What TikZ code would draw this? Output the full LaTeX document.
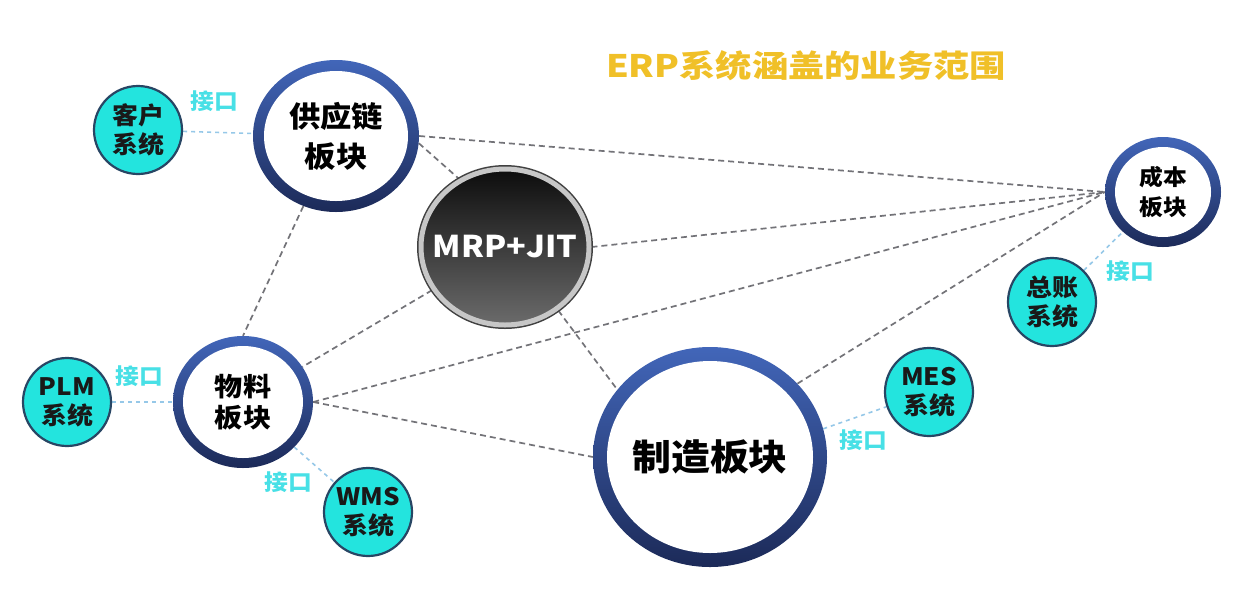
\documentclass[tikz,border=0pt]{standalone}
\usepackage{fontspec}
\usepackage{graphicx}
\setmainfont{Noto Sans CJK SC}[FakeStretch=1.08]
\newfontfamily\titlefont{Noto Sans CJK SC}[FakeStretch=1.17]
\usetikzlibrary{shapes.geometric,backgrounds}
\definecolor{ringtop}{RGB}{66,102,185}
\definecolor{ringbot}{RGB}{28,42,88}
\definecolor{cyanfill}{RGB}{35,228,222}
\definecolor{cyanedge}{RGB}{40,70,100}
\definecolor{iftext}{RGB}{72,224,230}
\definecolor{linkgray}{RGB}{115,115,120}
\definecolor{iflinkblue}{RGB}{150,200,232}
\definecolor{titlegold}{RGB}{240,192,40}
\tikzset{
  ring/.style n args={3}{ellipse, inner sep=0pt, minimum width=#1, minimum height=#2,
    top color=ringtop, bottom color=ringbot, text=black, align=center,
    path picture={\fill[white] (path picture bounding box.center) ellipse [x radius={#1/2-#3}, y radius={#2/2-#3}];}},
  mrpball/.style={ellipse, inner sep=0pt, minimum width=168pt, minimum height=156pt,
    top color=black!95, bottom color=black!58, draw=black!22, line width=5pt,
    preaction={draw=black!75, line width=8pt}, text=white,
    font=\bfseries\fontsize{30}{34}\selectfont},
  sys/.style={circle, minimum size=88pt, inner sep=0pt, fill=cyanfill, draw=cyanedge,
    line width=2.2pt, align=center, text=black!90, font=\bfseries\fontsize{24}{29}\selectfont},
  iflabel/.style={text=iftext, font=\bfseries\fontsize{22}{26}\selectfont},
  link/.style={draw=linkgray, line width=1.7pt, dash pattern=on 6pt off 4pt},
  iflink/.style={draw=iflinkblue, line width=1.6pt, dash pattern=on 4pt off 4pt},
}
\begin{document}
\begin{tikzpicture}[x=1pt,y=-1pt]
\useasboundingbox (0,0) rectangle (1247,590);

% title
\node[text=titlegold, font=\titlefont\bfseries\fontsize{31}{34}\selectfont] (title) at (806,66) {ERP系统涵盖的业务范围};

% main modules
\node[ring={166pt}{152pt}{11pt}, font=\bfseries\fontsize{29}{40}\selectfont] (sc) at (336,136) {供应链\\板块};
\node[ring={140pt}{132pt}{10pt}, font=\bfseries\fontsize{26}{31}\selectfont] (wl) at (243,402) {物料\\板块};
\node[ring={234pt}{220pt}{14pt}, font=\bfseries\fontsize{36}{40}\selectfont] (zz) at (710,457) {制造板块};
\node[ring={116pt}{110pt}{10pt}, font=\bfseries\fontsize{22}{30}\selectfont] (cb) at (1163,192) {成本\\板块};
\node[mrpball] (mrp) at (505,247) {\makebox[0pt]{MRP+JIT}};

% external systems
\node[sys] (kh) at (138,130) {客户\\系统};
\node[sys] (plm) at (67,402) {PLM\\系统};
\node[sys] (wms) at (368,512) {WMS\\系统};
\node[sys] (mes) at (929,392) {MES\\系统};
\node[sys] (zs) at (1052,302) {总账\\系统};

% interface labels
\node[iflabel] (if1) at (214,101) {接口};
\node[iflabel] (if2) at (139,376) {接口};
\node[iflabel] (if3) at (288,482) {接口};
\node[iflabel] (if4) at (863,440) {接口};
\node[iflabel] (if5) at (1130,271) {接口};

\begin{pgfonlayer}{background}
\fill[white] (0,0) rectangle (1247,590);
\draw[link] (sc.east) -- (cb.west);
\draw[link] (sc.-5) -- (mrp.124);
\draw[link] (sc) -- (wl.north);
\draw[link] (mrp) -- (wl);
\draw[link] (mrp.east) -- (cb.west);
\draw[link] (mrp.-50) -- (zz.144);
\draw[link] (wl.east) -- (cb.west);
\draw[link] (wl.east) -- (zz.west);
\draw[link] (zz.40) -- (cb.west);
\draw[iflink] (kh) -- (sc);
\draw[iflink] (plm) -- (wl);
\draw[iflink] (wl) -- (wms);
\draw[iflink] (zz.14) -- (mes);
\draw[iflink] (zs) -- (cb);
\end{pgfonlayer}
\end{tikzpicture}
\end{document}
